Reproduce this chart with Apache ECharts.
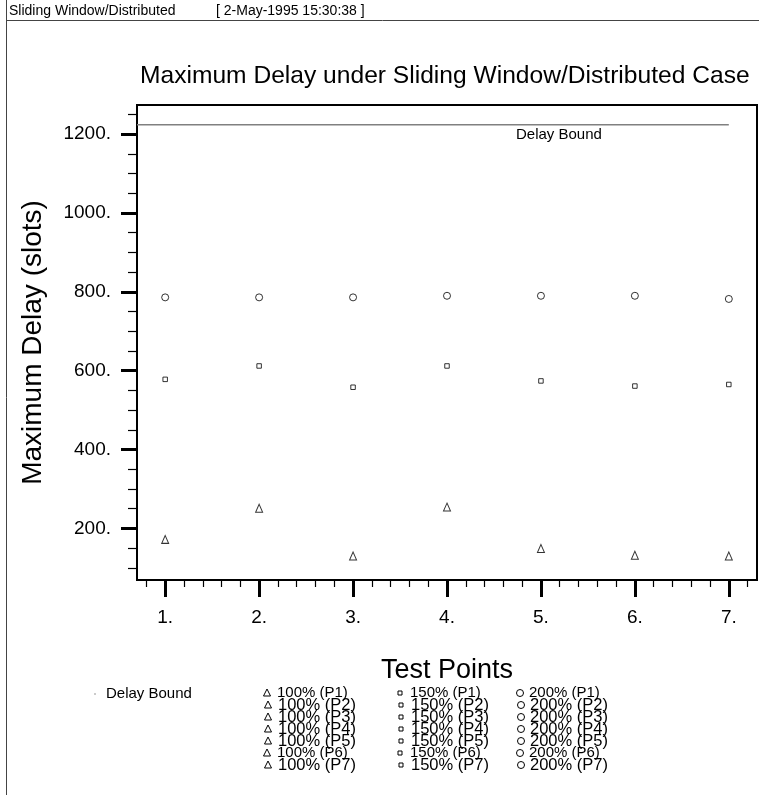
<!DOCTYPE html>
<html><head><meta charset="utf-8">
<script src="https://cdn.jsdelivr.net/npm/echarts@6/dist/echarts.min.js"></script>
<style>html,body{margin:0;padding:0;background:#fff}#c{width:759px;height:795px}</style>
</head><body><div id="c"></div>
<script>
// ---- data ----
const testPoints = [1, 2, 3, 4, 5, 6, 7];
const load100 = [172, 251, 130, 254, 149, 132, 130];
const load150 = [578, 612, 558, 612, 574, 561, 565];
const load200 = [786, 786, 786, 790, 790, 790, 782];
const delayBoundX = [0.7, 7.0];
const delayBoundY = [1224, 1224];
const seriesNames = ['100%', '150%', '200%'];
const pointNames = ['P1', 'P2', 'P3', 'P4', 'P5', 'P6', 'P7'];
const yMajorTicks = [200, 400, 600, 800, 1000, 1200];
const yMinorTicks = [100, 150, 250, 300, 350, 450, 500, 550, 650, 700, 750, 850, 900, 950, 1050, 1100, 1150, 1250];
const xMajorTicks = [1, 2, 3, 4, 5, 6, 7];
const xMinorTicks = [0.8, 1.2, 1.4, 1.6, 1.8, 2.2, 2.4, 2.6, 2.8, 3.2, 3.4, 3.6, 3.8, 4.2, 4.4, 4.6, 4.8, 5.2, 5.4, 5.6, 5.8, 6.2, 6.4, 6.6, 6.8, 7.2];
const titleText = 'Maximum Delay under Sliding Window/Distributed Case';
const headerLeft = 'Sliding Window/Distributed';
const headerDate = '[ 2-May-1995 15:30:38 ]';

const FONT = '"Liberation Sans", Arial, sans-serif';
const chart = echarts.init(document.getElementById('c'), null, {renderer: 'canvas'});

const zip = (xs, ys) => xs.map((x, i) => [x, ys[i]]);
const symbols = ['triangle', 'rect', 'circle'];
const symbolSizes = [[7, 8], 4.5, 7];
const values = [load100, load150, load200];

const series = [{
  name: 'Delay Bound', type: 'line', xAxisIndex: 0, yAxisIndex: 0,
  data: zip(delayBoundX, delayBoundY), symbol: 'none', silent: true,
  lineStyle: {color: '#808080', width: 1.5}
}];
values.forEach((v, k) => {
  series.push({
    name: seriesNames[k], type: 'scatter', xAxisIndex: 0, yAxisIndex: 0,
    data: zip(testPoints, v), symbol: symbols[k], symbolSize: symbolSizes[k],
    itemStyle: {color: '#fff', borderColor: '#000', borderWidth: 1}
  });
});

// legend graphics built from names
const legendRowY = r => 693 + r * 12;
const colSymX = [267, 400, 520];
const colTextX = [277, 410, 529];
const graphics = [
  {type: 'line', shape: {x1: 6.5, y1: 0, x2: 6.5, y2: 795}, style: {stroke: '#444', lineWidth: 1}},
  {type: 'line', shape: {x1: 6, y1: 20.5, x2: 759, y2: 20.5}, style: {stroke: '#444', lineWidth: 1}},
  {type: 'text', x: 9, y: 11, style: {text: headerLeft, font: '14px ' + FONT, fill: '#000', verticalAlign: 'middle'}},
  {type: 'text', x: 216, y: 11, style: {text: headerDate, font: '14px ' + FONT, fill: '#000', verticalAlign: 'middle'}},
  {type: 'text', x: 516, y: 135, style: {text: 'Delay Bound', font: '15px ' + FONT, fill: '#000', verticalAlign: 'middle'}},
  {type: 'circle', shape: {cx: 95, cy: 694, r: 0.8}, style: {fill: '#888'}},
  {type: 'text', x: 106, y: 694, style: {text: 'Delay Bound', font: '15px ' + FONT, fill: '#000', verticalAlign: 'middle'}}
];
seriesNames.forEach((nm, c) => {
  pointNames.forEach((p, r) => {
    const y = legendRowY(r);
    const small = (r === 0 || r === 5);
    const fs = small ? 15 : 16.5;
    const sx = colSymX[c] + (small ? 0 : 1);
    if (c === 0) {
      graphics.push({type: 'polygon', shape: {points: [[sx, y - 4], [sx - 3.5, y + 3], [sx + 3.5, y + 3]]}, style: {fill: 'none', stroke: '#000', lineWidth: 1}});
    } else if (c === 1) {
      graphics.push({type: 'rect', shape: {x: sx - 2, y: y - 2, width: 4, height: 4}, style: {fill: 'none', stroke: '#000', lineWidth: 1}});
    } else {
      graphics.push({type: 'circle', shape: {cx: sx, cy: y, r: 3.5}, style: {fill: 'none', stroke: '#000', lineWidth: 1}});
    }
    graphics.push({type: 'text', x: colTextX[c] + (small ? 0 : 1), y: y, style: {text: nm + ' (' + p + ')', font: fs + 'px ' + FONT, fill: '#000', verticalAlign: 'middle'}});
  });
});

const option = {
  backgroundColor: '#fff',
  animation: false,
  textStyle: {fontFamily: FONT},
  title: {text: titleText, left: 135, top: 59, textStyle: {fontSize: 24.6, fontWeight: 'normal', color: '#000', fontFamily: FONT}},
  grid: {left: 137, top: 105, right: 2, bottom: 215, show: true, borderColor: '#000', borderWidth: 2, backgroundColor: 'transparent'},
  xAxis: [
    {type: 'value', position: 'bottom', min: 0.7, max: 7.3,
     name: 'Test Points', nameLocation: 'middle', nameGap: 77,
     nameTextStyle: {fontSize: 27, color: '#000', fontFamily: FONT},
     axisLine: {show: true, lineStyle: {color: '#000', width: 2}},
     axisTick: {show: true, customValues: xMajorTicks, length: 17, lineStyle: {color: '#000', width: 3}},
     axisLabel: {show: true, customValues: xMajorTicks, formatter: v => v + '.', fontSize: 19, color: '#000', margin: 28, fontFamily: FONT},
     splitLine: {show: false}},
    {type: 'value', position: 'bottom', offset: 0, min: 0.7, max: 7.3,
     axisLine: {show: false},
     axisTick: {show: true, customValues: xMinorTicks, length: 7, lineStyle: {color: '#000', width: 1.2}},
     axisLabel: {show: false}, splitLine: {show: false}}
  ],
  yAxis: [
    {type: 'value', position: 'left', min: 69, max: 1274,
     name: 'Maximum Delay (slots)', nameLocation: 'middle', nameGap: 90, nameRotate: 90,
     nameTextStyle: {fontSize: 28, color: '#000', fontFamily: FONT},
     axisLine: {show: true, lineStyle: {color: '#000', width: 2}},
     axisTick: {show: true, customValues: yMajorTicks, length: 16, lineStyle: {color: '#000', width: 3}},
     axisLabel: {show: true, customValues: yMajorTicks, formatter: v => v + '.', fontSize: 19, color: '#000', margin: 26, fontFamily: FONT},
     splitLine: {show: false}},
    {type: 'value', position: 'left', offset: 0, min: 69, max: 1274,
     axisLine: {show: false},
     axisTick: {show: true, customValues: yMinorTicks, length: 9, lineStyle: {color: '#000', width: 1.2}},
     axisLabel: {show: false}, splitLine: {show: false}}
  ],
  series: series,
  graphic: graphics
};
chart.setOption(option);
</script>
</body></html>
